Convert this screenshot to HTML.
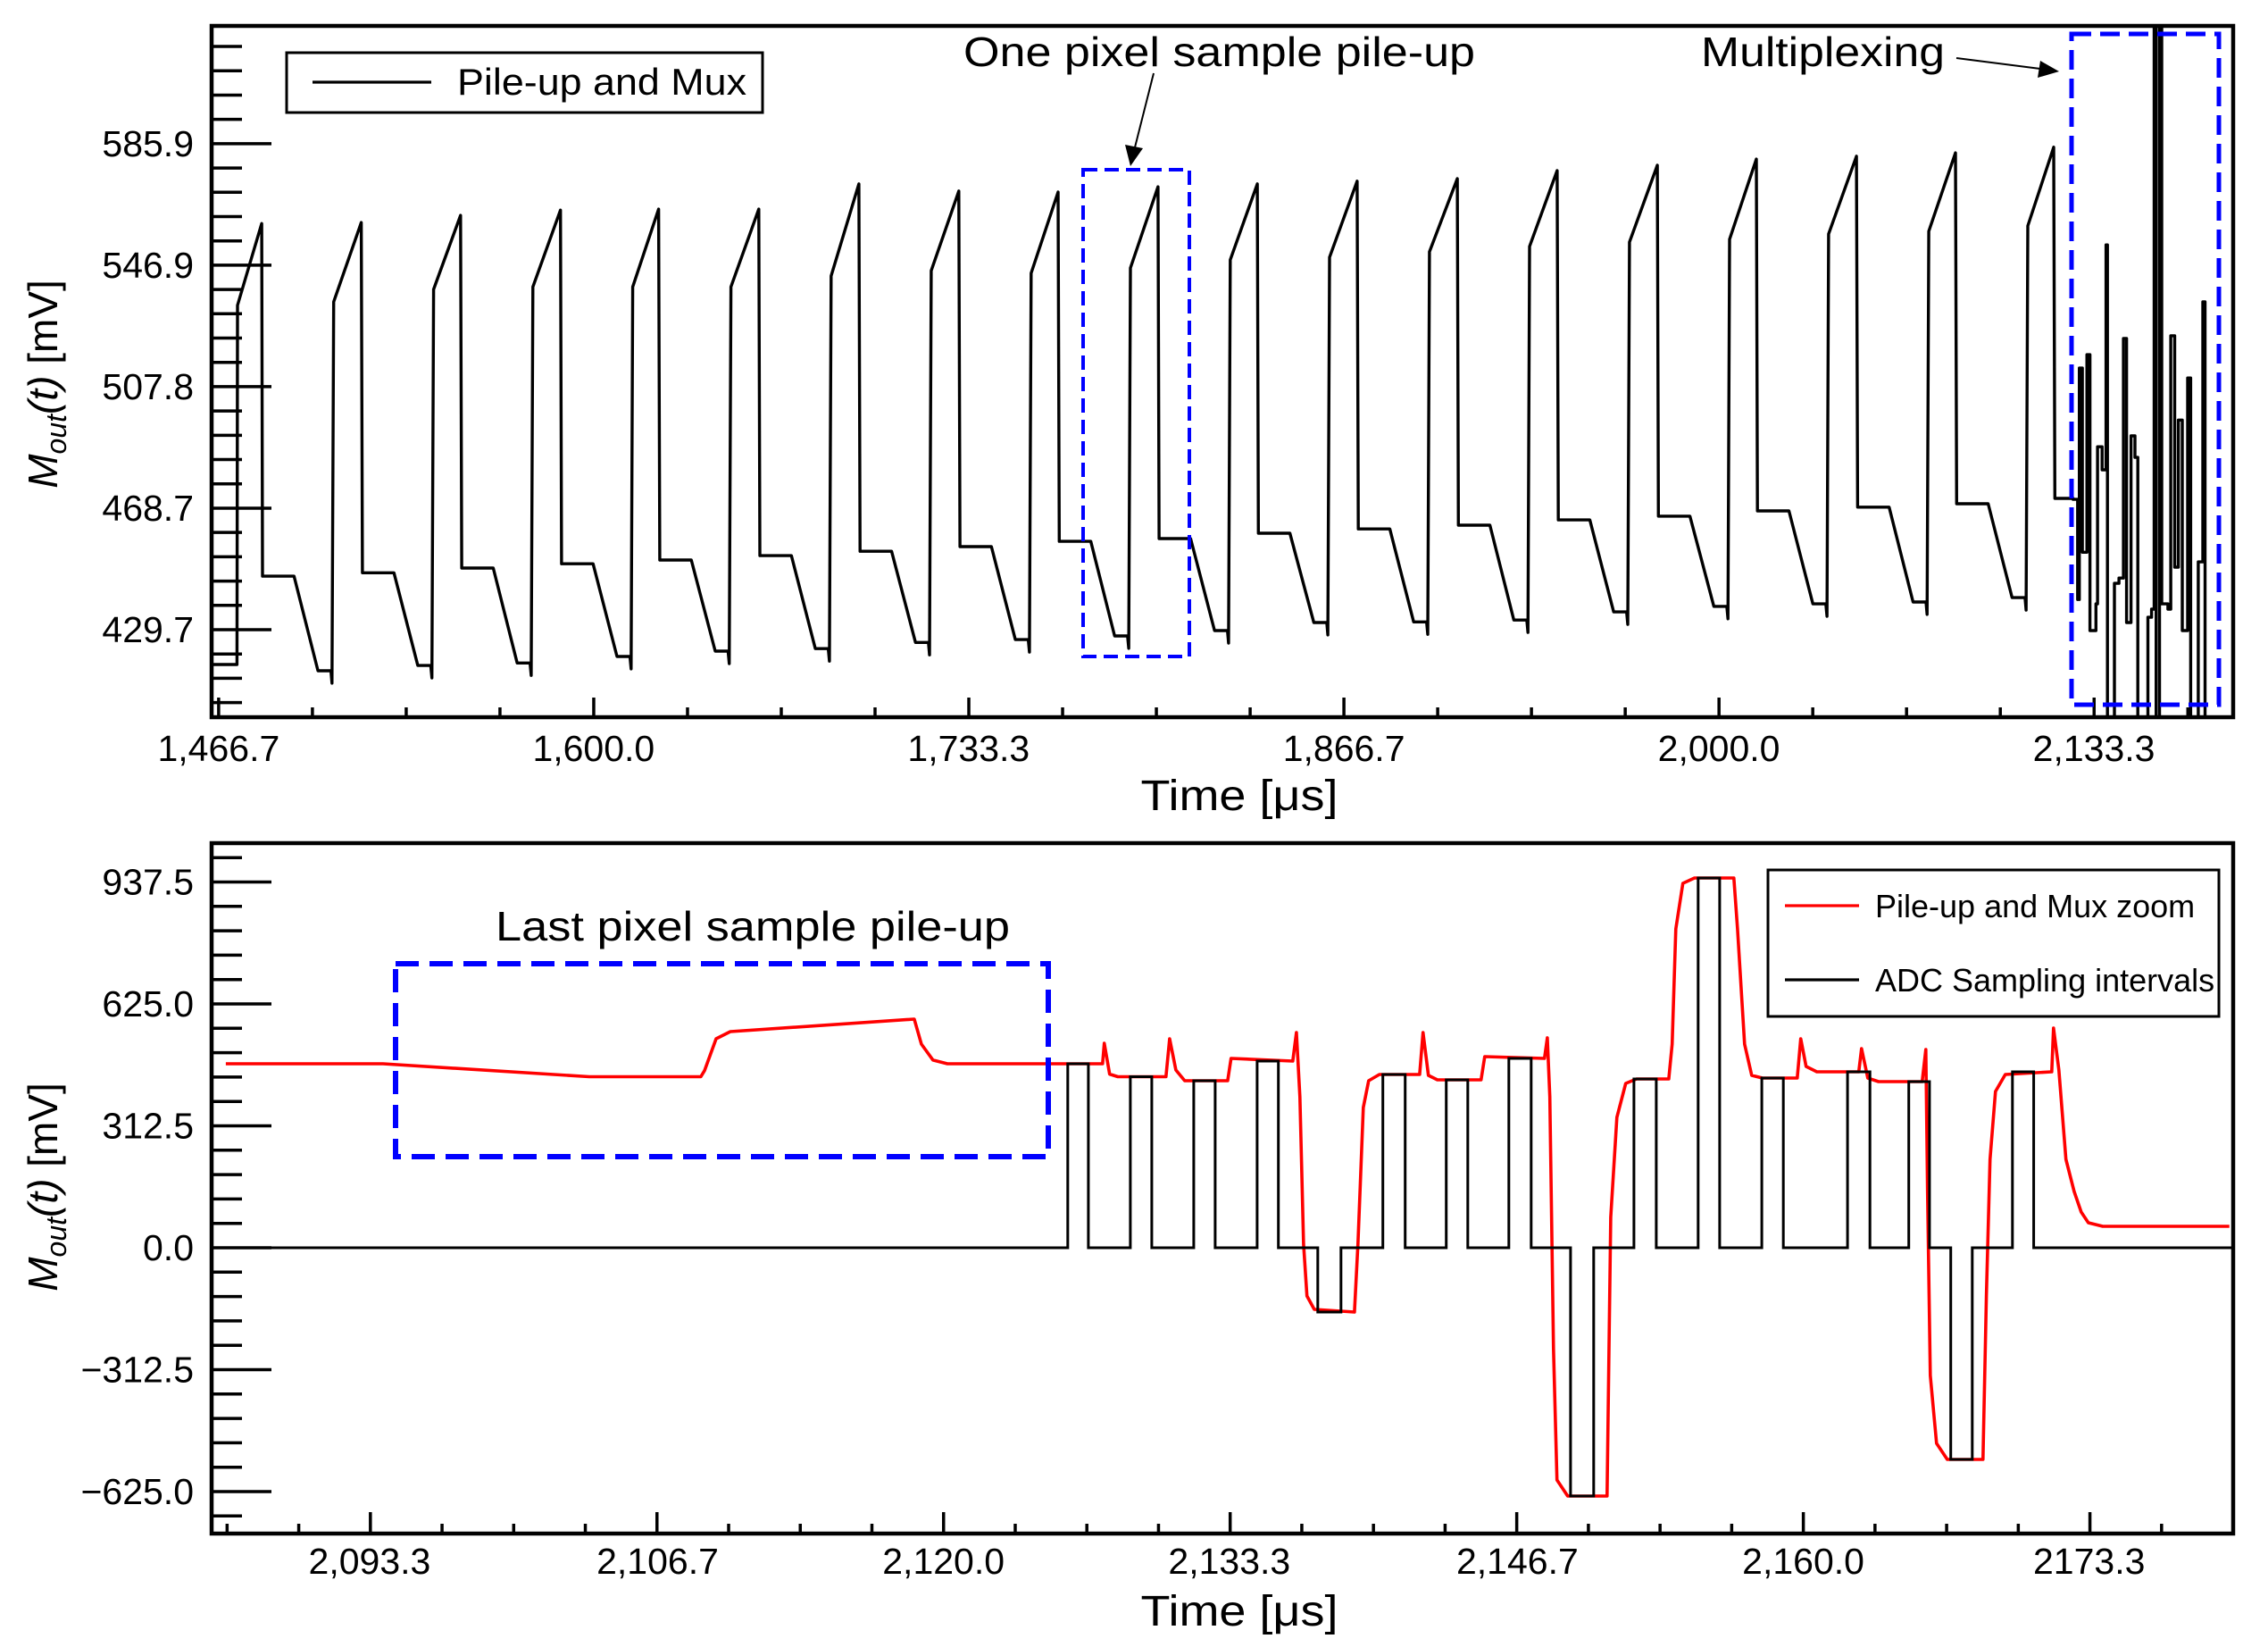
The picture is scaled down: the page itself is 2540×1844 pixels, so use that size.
<!DOCTYPE html>
<html><head><meta charset="utf-8"><title>Pile-up and Mux</title>
<style>
html,body{margin:0;padding:0;background:#fff;}
svg{display:block;font-family:"Liberation Sans",Arial,sans-serif;}
</style></head>
<body>
<svg id="chart" width="2540" height="1844" viewBox="0 0 2540 1844" xmlns="http://www.w3.org/2000/svg">
<rect x="0" y="0" width="2540" height="1844" fill="#fff"/>
<g id="top"></g>
<g id="bot"></g>
</svg>
<script>
// ---------- TOP PANEL DATA ----------
const topPeakTimes = [1482.0,1517.5,1552.8,1588.3,1623.2,1658.8,1694.4,1729.9,1765.2,1800.7,1836.0,1871.5,1907.1,1942.6,1978.2,2013.4,2049.0,2084.2,2119.1];
const topPeakValues = [560.3,560.6,562.9,564.6,564.9,564.9,573.0,570.7,570.4,572.1,573.0,573.9,574.7,577.3,579.0,581.0,581.9,583.0,584.8];
const topPlateauValues = [446.9,448.0,449.5,450.9,452.1,453.5,454.9,456.4,458.1,459.0,460.7,462.1,463.3,465.0,466.2,467.9,469.1,470.2,471.9];
const topMinValues = [416.5,418.2,419.0,421.1,422.8,423.6,425.6,426.5,427.7,429.4,432.0,432.2,432.8,435.4,437.2,438.0,438.6,440.0];
const topRampStartValues = [535.1,539.1,539.9,539.9,539.9,543.4,545.1,544.3,546.0,548.6,549.4,551.2,552.9,554.3,555.2,556.9,557.8,559.5];
const topStartValue = 418.5, topFirstRamp = 534.0;
const muxTimes = [2125.4,2125.9,2127.5,2128.1,2129.2,2130.8,2131.9,2134.0,2134.6,2136.2,2137.6,2138.1,2140.6,2142.2,2143.8,2144.9,2146.5,2147.9,2148.9,2152.5,2153.8,2154.7,2155.4,2156.6,2157.4,2159.6,2160.6,2162.0,2163.3,2164.7,2165.5,2166.6,2167.7,2170.4,2172.0,2172.8,2173.6];
const muxValues = [471.9,471.6,439.4,513.8,454.6,518.1,429.4,438.0,488.5,481.1,553.4,395.0,444.6,446.3,523.3,432.0,492.0,485.1,395.0,433.7,436.3,640.0,395.0,640.0,438.0,436.3,524.2,449.8,497.1,429.4,429.4,510.6,395.0,451.5,535.1,395.0,395.0];
const topYTicks = [429.7,468.7,507.8,546.9,585.9];
const topYLabels = ["429.7","468.7","507.8","546.9","585.9"];
const topXTicks = [1466.7,1600.0,1733.3,1866.7,2000.0,2133.3];
const topXLabels = ["1,466.7","1,600.0","1,733.3","1,866.7","2,000.0","2,133.3"];

// ---------- BOTTOM PANEL DATA ----------
const redTimes = [2086.61,2093.92,2103.52,2108.71,2108.88,2109.42,2110.08,2118.64,2118.97,2119.51,2120.18,2127.40,2127.48,2127.73,2128.11,2130.35,2130.52,2130.81,2131.22,2133.22,2133.38,2136.25,2136.42,2136.58,2136.75,2136.91,2137.25,2139.12,2139.28,2139.53,2139.78,2140.28,2142.15,2142.31,2142.56,2142.98,2145.01,2145.18,2147.96,2148.09,2148.21,2148.38,2148.54,2149.04,2150.87,2151.04,2151.33,2151.74,2152.24,2153.74,2153.90,2154.07,2154.40,2154.94,2156.77,2156.94,2157.27,2157.60,2158.10,2159.72,2159.88,2160.13,2160.63,2162.58,2162.71,2163.00,2163.50,2165.53,2165.70,2165.78,2165.91,2166.20,2166.70,2168.36,2168.52,2168.69,2168.94,2169.40,2171.56,2171.64,2171.89,2172.22,2172.60,2172.93,2173.26,2173.93,2179.82];
const redValues = [471.6,471.6,438.4,438.4,454.0,535.7,554.0,586.0,522.0,481.0,471.6,471.6,524.0,445.0,438.4,438.4,535.7,455.6,428.1,428.1,485.4,478.5,551.7,386.9,9.2,-123.6,-158.0,-164.8,9.2,359.4,428.1,444.1,444.1,551.7,441.8,430.4,430.4,489.9,485.4,538.0,386.9,-258.7,-595.2,-636.4,-636.4,77.8,334.3,421.2,432.7,432.7,522.0,817.3,934.1,947.8,947.8,817.3,522.0,441.8,435.0,435.0,535.7,464.7,451.0,451.0,510.5,435.0,425.8,425.8,508.3,144.2,-327.4,-501.4,-542.6,-542.6,-123.6,226.6,400.6,444.1,451.0,563.2,455.6,226.6,144.2,91.6,64.1,54.9,54.9];
const adcStart = [2125.78,2128.69,2131.64,2134.59,2137.41,2140.44,2143.39,2146.30,2149.17,2152.12,2155.11,2158.07,2162.06,2164.91,2166.86,2169.73];
const adcEnd   = [2126.74,2129.69,2132.64,2135.58,2138.49,2141.48,2144.39,2147.34,2150.25,2153.16,2156.11,2159.07,2163.10,2165.87,2167.86,2170.72];
const adcLevel = [471.6,438.4,428.1,478.5,-164.8,444.1,430.4,485.4,-636.4,432.7,947.8,435.0,451.0,425.8,-542.6,451.0];
const botYTicks = [-625.0,-312.5,0.0,312.5,625.0,937.5];
const botYLabels = ["\u2212625.0","\u2212312.5","0.0","312.5","625.0","937.5"];
const botXTicks = [2093.3,2106.7,2120.0,2133.3,2146.7,2160.0,2173.3];
const botXLabels = ["2,093.3","2,106.7","2,120.0","2,133.3","2,146.7","2,160.0","2173.3"];

const NS = "http://www.w3.org/2000/svg";
function mk(parent, tag, attrs, text){
  const e = document.createElementNS(NS, tag);
  for (const k in attrs) e.setAttribute(k, attrs[k]);
  if (text !== undefined) e.textContent = text;
  parent.appendChild(e);
  return e;
}
function lin(d0,d1,r0,r1){ return v => r0 + (v-d0)/(d1-d0)*(r1-r0); }

// ---------- TOP PANEL ----------
const T = {L:237,R:2501,T:29,B:803};
const tx = lin(1464.2,2182.8,T.L,T.R);
const ty = lin(429.7,585.9,705,161);
const gT = document.getElementById('top');

const clipT = mk(gT,'clipPath',{id:'clipTop'});
mk(clipT,'rect',{x:T.L,y:T.T,width:T.R-T.L,height:T.B-T.T});

let pts = [[1464.5, topStartValue],[1473.2, topStartValue],[1473.4, topFirstRamp],[topPeakTimes[0], topPeakValues[0]]];
for (let k=0;k<topPeakTimes.length;k++){
  const P = topPeakTimes[k];
  pts.push([P+0.3, topPlateauValues[k]]);
  if (k < topMinValues.length){
    pts.push([P+11.5, topPlateauValues[k]]);
    pts.push([P+20.0, topMinValues[k]]);
    pts.push([P+24.6, topMinValues[k]]);
    pts.push([P+25.0, topMinValues[k]-4]);
    pts.push([P+25.6, topRampStartValues[k]]);
    pts.push([topPeakTimes[k+1]-0.1, topPeakValues[k+1]]);
  }
}
for (let i=0;i<muxTimes.length;i++){
  const prev = pts[pts.length-1];
  pts.push([muxTimes[i], prev[1]]);
  pts.push([muxTimes[i], muxValues[i]]);
}
const topLine = mk(gT,'polyline',{points:pts.map(p=>tx(p[0]).toFixed(1)+','+ty(p[1]).toFixed(1)).join(' '),fill:'none',stroke:'#000','stroke-width':3.4,'stroke-linejoin':'round','clip-path':'url(#clipTop)'});



for (let v=429.7-7.812*3; v<=624; v+=7.812){
  if (v < 401.7) continue;
  const y = ty(v);
  const major = topYTicks.some(t=>Math.abs(t-v)<0.5);
  const tk = mk(gT,'line',{x1:T.L,x2:T.L+(major?67:34),y1:y,y2:y,stroke:'#000','stroke-width':3.5});
  
  
}
topYTicks.forEach((v,i)=>{
  const t = mk(gT,'text',{x:217,y:ty(v)+14,'text-anchor':'end','font-size':41},topYLabels[i]);
  
  
});
for (let v=1466.7; v<=2182; v+=33.333){
  const x = tx(v);
  const major = topXTicks.some(t=>Math.abs(t-v)<0.5);
  const tk = mk(gT,'line',{x1:x,x2:x,y1:T.B,y2:T.B-(major?22:11),stroke:'#000','stroke-width':3.5});
  
  
}
topXTicks.forEach((v,i)=>{
  const t = mk(gT,'text',{x:tx(v),y:852,'text-anchor':'middle','font-size':41},topXLabels[i]);
  
  
});
const frT = mk(gT,'rect',{x:T.L,y:T.T,width:T.R-T.L,height:T.B-T.T,fill:'none',stroke:'#000','stroke-width':4.5});


const xtT = mk(gT,'text',{x:1388,y:907,'text-anchor':'middle','font-size':48,textLength:221,lengthAdjust:'spacingAndGlyphs'},'Time [\u03bcs]');


const ytT = mk(gT,'text',{x:0,y:0,'text-anchor':'middle','font-size':46,transform:'translate(64,430) rotate(-90)'});


ytT.innerHTML = '<tspan font-style="italic">M</tspan><tspan font-style="italic" font-size="32" dy="10">out</tspan><tspan font-style="italic" dy="-10">(t)</tspan> [mV]';

const lgT = mk(gT,'g',{});


mk(lgT,'rect',{x:321,y:59,width:533,height:67,fill:'#fff',stroke:'#000','stroke-width':3});
mk(lgT,'line',{x1:350,x2:483,y1:92,y2:92,stroke:'#000','stroke-width':3.2});
const lgTt = mk(lgT,'text',{x:512,y:106,'font-size':42,textLength:324,lengthAdjust:'spacingAndGlyphs'},'Pile-up and Mux');



const boxA = mk(gT,'rect',{x:1213,y:190,width:119,height:545,fill:'none',stroke:'#0000ff','stroke-width':4,'stroke-dasharray':'16 8'});


const boxB = mk(gT,'rect',{x:2320,y:38,width:165,height:751,fill:'none',stroke:'#0000ff','stroke-width':5,'stroke-dasharray':'22 10'});


const an1 = mk(gT,'text',{x:1079,y:74,'font-size':46,textLength:573,lengthAdjust:'spacingAndGlyphs'},'One pixel sample pile-up');


const an2 = mk(gT,'text',{x:1905,y:74,'font-size':46,textLength:273,lengthAdjust:'spacingAndGlyphs'},'Multiplexing');


mk(gT,'line',{x1:1292,y1:82,x2:1271,y2:165,stroke:'#000','stroke-width':2});
mk(gT,'polygon',{points:'1266,186 1260,162 1280,166',fill:'#000'});
mk(gT,'line',{x1:2191,y1:65,x2:2285,y2:77,stroke:'#000','stroke-width':2});
mk(gT,'polygon',{points:'2306,80 2282,87 2285,68',fill:'#000'});

// ---------- BOTTOM PANEL ----------
const B = {L:237,R:2501,T:944,B:1717};
const bx = lin(2085.95,2180.0,B.L,B.R);
const by = lin(0,312.5,1397,1260.5);
const gB = document.getElementById('bot');
const clipB = mk(gB,'clipPath',{id:'clipBot'});
mk(clipB,'rect',{x:B.L,y:B.T,width:B.R-B.L,height:B.B-B.T});

const redLine = mk(gB,'polyline',{points:redTimes.map((t,i)=>bx(t).toFixed(1)+','+by(redValues[i]).toFixed(1)).join(' '),fill:'none',stroke:'#ff0000','stroke-width':3.6,'stroke-linejoin':'round','clip-path':'url(#clipBot)'});



let ap = [[2086.0,0]];
for (let i=0;i<adcStart.length;i++){
  ap.push([adcStart[i],0],[adcStart[i],adcLevel[i]],[adcEnd[i],adcLevel[i]],[adcEnd[i],0]);
}
ap.push([2180,0]);
const adcLine = mk(gB,'polyline',{points:ap.map(p=>bx(p[0]).toFixed(1)+','+by(p[1]).toFixed(1)).join(' '),fill:'none',stroke:'#000','stroke-width':3,'clip-path':'url(#clipBot)'});



for (let v=-750; v<=1062.5; v+=62.5){
  const y = by(v);
  if (y < B.T+5 || y > B.B-5) continue;
  const major = botYTicks.some(t=>Math.abs(t-v)<0.5);
  const tk = mk(gB,'line',{x1:B.L,x2:B.L+(major?67:34),y1:y,y2:y,stroke:'#000','stroke-width':3.5});
  
  
}
botYTicks.forEach((v,i)=>{
  const t = mk(gB,'text',{x:217,y:by(v)+14,'text-anchor':'end','font-size':41},botYLabels[i]);
  
  
});
for (let v=2086.67; v<=2180; v+=3.3333){
  const x = bx(v);
  const major = botXTicks.some(t=>Math.abs(t-v)<0.2);
  const tk = mk(gB,'line',{x1:x,x2:x,y1:B.B,y2:B.B-(major?24:11),stroke:'#000','stroke-width':3.5});
  
  
}
botXTicks.forEach((v,i)=>{
  const t = mk(gB,'text',{x:bx(v),y:1762,'text-anchor':'middle','font-size':41},botXLabels[i]);
  
  
});
const frB = mk(gB,'rect',{x:B.L,y:B.T,width:B.R-B.L,height:B.B-B.T,fill:'none',stroke:'#000','stroke-width':4.5});


const xtB = mk(gB,'text',{x:1388,y:1820,'text-anchor':'middle','font-size':48,textLength:221,lengthAdjust:'spacingAndGlyphs'},'Time [\u03bcs]');


const ytB = mk(gB,'text',{x:0,y:0,'text-anchor':'middle','font-size':46,transform:'translate(64,1329) rotate(-90)'});


ytB.innerHTML = '<tspan font-style="italic">M</tspan><tspan font-style="italic" font-size="32" dy="10">out</tspan><tspan font-style="italic" dy="-10">(t)</tspan> [mV]';

const boxC = mk(gB,'rect',{x:443,y:1079,width:731,height:216,fill:'none',stroke:'#0000ff','stroke-width':6,'stroke-dasharray':'26 12'});


const an3 = mk(gB,'text',{x:555,y:1053,'font-size':46,textLength:576,lengthAdjust:'spacingAndGlyphs'},'Last pixel sample pile-up');



const lgB = mk(gB,'g',{});


mk(lgB,'rect',{x:1980,y:974,width:505,height:164,fill:'#fff',stroke:'#000','stroke-width':3});
mk(lgB,'line',{x1:1999,x2:2082,y1:1014,y2:1014,stroke:'#ff0000','stroke-width':3.2});
mk(lgB,'line',{x1:1999,x2:2082,y1:1097,y2:1097,stroke:'#000','stroke-width':3.2});
const le1 = mk(lgB,'text',{x:2100,y:1027,'font-size':36},'Pile-up and Mux zoom');


const le2 = mk(lgB,'text',{x:2100,y:1110,'font-size':36},'ADC Sampling intervals');


</script>
</body></html>
